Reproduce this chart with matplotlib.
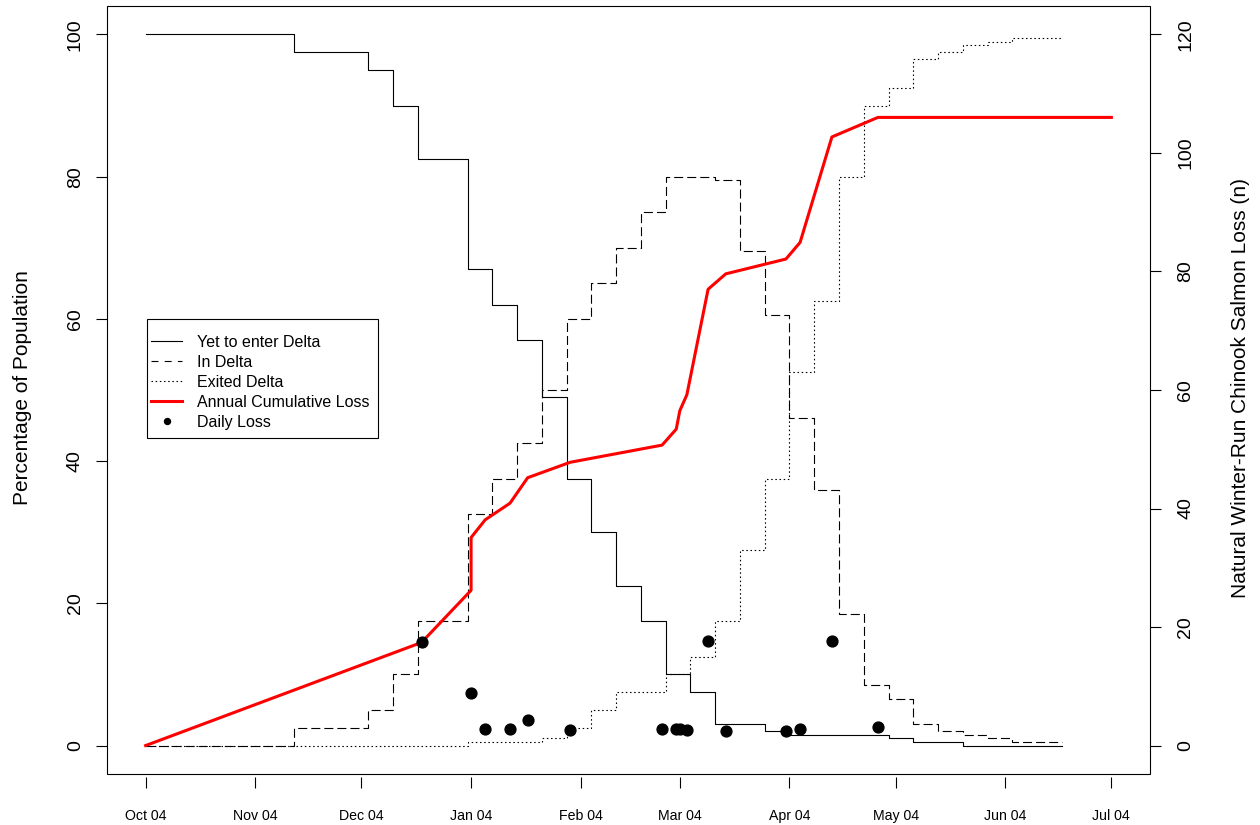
import matplotlib
matplotlib.use("Agg")
import matplotlib.pyplot as plt
import matplotlib.dates as mdates
import pandas as pd
from matplotlib.lines import Line2D
from matplotlib.patches import Rectangle

plt.rcParams['font.family'] = ['Liberation Sans', 'DejaVu Sans']
plt.rcParams['lines.scale_dashes'] = False

# ---------------- data ----------------
week_start = '2004-10-04'   # weekly values, one per week starting here

yet_to_enter = [100, 100, 100, 100, 100, 100, 97.5, 97.5, 97.5, 95, 90, 82.5, 82.5,
                67, 62, 57, 49, 37.5, 30, 22.5, 17.5, 10, 7.5, 3, 3, 2, 1.5, 1.5,
                1.5, 1.5, 1, 0.5, 0.5, 0, 0, 0, 0, 0]
in_delta = [0, 0, 0, 0, 0, 0, 2.5, 2.5, 2.5, 5, 10, 17.5, 17.5,
            32.5, 37.5, 42.5, 50, 60, 65, 70, 75, 80, 80, 79.5, 69.5, 60.5, 46, 36,
            18.5, 8.5, 6.5, 3, 2, 1.5, 1, 0.5, 0.5, 0.5]
exited_delta = [0, 0, 0, 0, 0, 0, 0, 0, 0, 0, 0, 0, 0,
                0.5, 0.5, 0.5, 1, 2.5, 5, 7.5, 7.5, 10, 12.5, 17.5, 27.5, 37.5, 52.5, 62.5,
                80, 90, 92.5, 96.5, 97.5, 98.5, 99, 99.5, 99.5, 99.5]

cum_dates = ['2004-10-04', '2004-12-21', '2005-01-04', '2005-01-04', '2005-01-08',
             '2005-01-15', '2005-01-20', '2005-02-01', '2005-02-27', '2005-03-03',
             '2005-03-04', '2005-03-06', '2005-03-12', '2005-03-17', '2005-04-03',
             '2005-04-07', '2005-04-16', '2005-04-29', '2005-07-04']
cum_loss = [0, 17.4, 26.2, 35.1, 38.1, 40.9, 45.2, 47.8, 50.7, 53.4, 56.5, 59.2,
            77.0, 79.6, 82.1, 84.9, 102.7, 106.0, 106.0]

daily_dates = ['2004-12-21', '2005-01-04', '2005-01-08', '2005-01-15', '2005-01-20',
               '2005-02-01', '2005-02-27', '2005-03-03', '2005-03-04', '2005-03-06',
               '2005-03-12', '2005-03-17', '2005-04-03', '2005-04-07', '2005-04-16',
               '2005-04-29']
daily_loss = [17.4, 8.8, 2.8, 2.8, 4.3, 2.6, 2.8, 2.8, 2.8, 2.6, 17.7, 2.5, 2.5,
              2.8, 17.6, 3.1]

tick_dates = ['2004-10-04', '2004-11-04', '2004-12-04', '2005-01-04', '2005-02-04',
              '2005-03-04', '2005-04-04', '2005-05-04', '2005-06-04', '2005-07-04']

left_ticks = [0, 20, 40, 60, 80, 100]
right_ticks = [0, 20, 40, 60, 80, 100, 120]

# ---------------- figure ----------------
W, H = 1260, 825
AX_L, AX_R, AX_T, AX_B = 107, 1150, 6, 774
fig = plt.figure(figsize=(W / 100, H / 100), dpi=100)
ax = fig.add_axes([AX_L / W, 1 - AX_B / H, (AX_R - AX_L) / W, (AX_B - AX_T) / H])
ax2 = ax.twinx()


def px_to_axes(x, y):
    return (x - AX_L) / (AX_R - AX_L), (AX_B - y) / (AX_B - AX_T)


weeks = pd.date_range(week_start, periods=len(yet_to_enter), freq='7D')
dash = (0, (6.5, 2.9))
dot = (0, (1.1, 1.9))
lw_black = 0.8

ax.plot(weeks, yet_to_enter, drawstyle='steps-post', color='black', lw=lw_black)
ax.plot(weeks, in_delta, drawstyle='steps-post', color='black', lw=lw_black, linestyle=dash)
ax.plot(weeks, exited_delta, drawstyle='steps-post', color='black', lw=lw_black, linestyle=dot)

ax2.plot(pd.to_datetime(cum_dates), cum_loss, color='#ff0000', lw=2.2, zorder=3)
ax2.plot(pd.to_datetime(daily_dates), daily_loss, linestyle='none', marker='o',
         color='black', markersize=7.8, zorder=4)

# limits (R style 4% expansion)
t0 = pd.Timestamp(tick_dates[0])
t1 = pd.Timestamp(tick_dates[-1])
span = (t1 - t0).days
ax.set_xlim(mdates.date2num(t0 - pd.Timedelta(days=0.04 * span)),
            mdates.date2num(t1 + pd.Timedelta(days=0.04 * span)))
ax.set_ylim(-4, 104)
ax2.set_ylim(-4.8, 124.8)

# spines / frame
for a in (ax, ax2):
    for s in a.spines.values():
        s.set_visible(False)
ax.spines['bottom'].set_position(('outward', 2))
ax.add_patch(Rectangle((0, 0), 1, 1, transform=ax.transAxes, fill=False,
                       edgecolor='black', lw=0.8, clip_on=False, zorder=10))

# x ticks
ax.set_xticks(pd.to_datetime(tick_dates))
ax.xaxis.set_major_formatter(mdates.DateFormatter('%b %d'))
ax.tick_params(axis='x', length=8, width=0.8, pad=15, labelsize=10.2, direction='out')

# y ticks
ax.set_yticks(left_ticks)
ax.tick_params(axis='y', length=7.7, width=0.8, pad=9, labelsize=14, direction='out')
for lbl in ax.get_yticklabels():
    lbl.set_rotation(90)
    lbl.set_va('center')
ax2.set_yticks(right_ticks)
ax2.tick_params(axis='y', length=7.7, width=0.8, pad=12, labelsize=14, direction='out')
for lbl in ax2.get_yticklabels():
    lbl.set_rotation(90)
    lbl.set_va('center')

fig.text(23 / W, 1 - 388 / H, 'Percentage of Population', rotation=90,
         ha='center', va='center', fontsize=15)
fig.text(1240 / W, 1 - 388 / H, 'Natural Winter-Run Chinook Salmon Loss (n)', rotation=90,
         ha='center', va='center', fontsize=15)

# legend (frame drawn separately for R-like padding)
handles = [
    Line2D([], [], color='black', lw=lw_black),
    Line2D([], [], color='black', lw=lw_black, linestyle=(0, (5, 4.5))),
    Line2D([], [], color='black', lw=lw_black, linestyle=dot),
    Line2D([], [], color='#ff0000', lw=2.2),
    Line2D([], [], color='black', linestyle='none', marker='o', markersize=4.3),
]
labels = ['Yet to enter Delta', 'In Delta', 'Exited Delta', 'Annual Cumulative Loss',
          'Daily Loss']
bx0, by0 = px_to_axes(147, 438)
bx1, by1 = px_to_axes(378, 319)
ax2.add_patch(Rectangle((bx0, by0), bx1 - bx0, by1 - by0, transform=ax2.transAxes,
                        facecolor='white', edgecolor='black', lw=0.8, zorder=19))
leg = ax2.legend(handles, labels, loc='upper left',
                 bbox_to_anchor=px_to_axes(151, 334.5),
                 borderaxespad=0, frameon=False,
                 fontsize=11.5, handlelength=1.95, handletextpad=0.95,
                 labelspacing=0.32, borderpad=0)
leg.set_zorder(20)

fig.savefig('out.png', dpi=100)
